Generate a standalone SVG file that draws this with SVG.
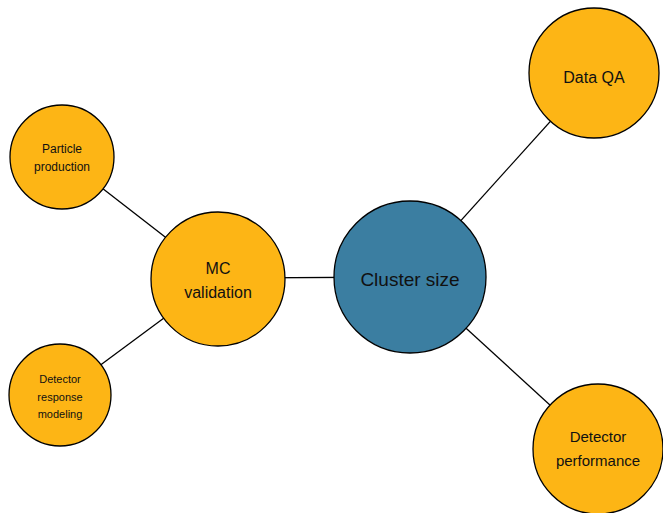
<svg xmlns="http://www.w3.org/2000/svg" width="663" height="513" viewBox="0 0 663 513">
<style>
.n{stroke:#000;stroke-width:1.3}
.o{fill:#FDB515}
.b{fill:#3B7EA1}
.e line{stroke:#000;stroke-width:1.3}
text{font-family:"Liberation Sans",Arial,sans-serif;fill:#111;text-anchor:middle}
</style>
<rect width="663" height="513" fill="#fff"/>
<g class="e" id="connectors">
<line x1="410" y1="277" x2="594" y2="73"/>
<line x1="410" y1="277" x2="598" y2="449"/>
<line x1="218" y1="278" x2="410" y2="277"/>
<line x1="62" y1="157" x2="218" y2="278"/>
<line x1="60" y1="395" x2="218" y2="278"/>
</g>
<g id="cluster-size"><circle class="n b" cx="410" cy="277" r="76"/><text x="410" y="286" font-size="19">Cluster size</text></g>
<g id="data-qa"><circle class="n o" cx="594" cy="73" r="65"/><text x="594" y="83" font-size="16">Data QA</text></g>
<g id="detector-performance"><circle class="n o" cx="598" cy="449" r="65"/><text x="598" y="442" font-size="15">Detector</text><text x="598" y="466" font-size="15">performance</text></g>
<g id="mc-validation"><circle class="n o" cx="218" cy="279" r="67"/><text x="218" y="274" font-size="16">MC</text><text x="218" y="298" font-size="16">validation</text></g>
<g id="particle-production"><circle class="n o" cx="62" cy="157" r="52"/><text x="62" y="153" font-size="12">Particle</text><text x="62" y="171" font-size="12">production</text></g>
<g id="detector-response"><circle class="n o" cx="60" cy="395" r="51"/><text x="60" y="383" font-size="11">Detector</text><text x="60" y="401" font-size="11">response</text><text x="60" y="418" font-size="11">modeling</text></g>
</svg>
